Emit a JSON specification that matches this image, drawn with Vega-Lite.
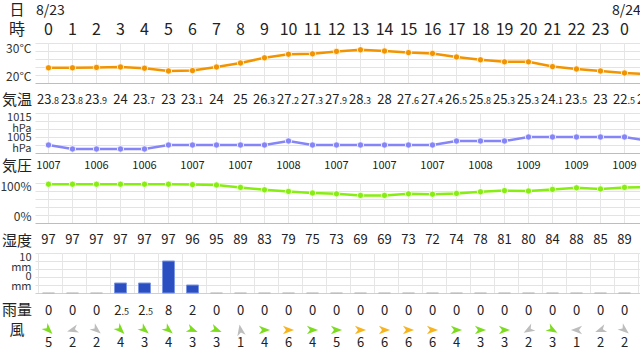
{
  "$schema": "https://vega.github.io/schema/vega-lite/v6.json",
  "width": 605,
  "height": 354,
  "autosize": "none",
  "padding": {"left": 35, "right": 0, "top": 0, "bottom": 0},
  "background": "white",
  "config": {
    "view": {"stroke": null},
    "axis": {"domain": false, "ticks": false, "labelFont": "Noto Sans CJK JP", "labelFontSize": 12, "labelColor": "#333", "gridColor": "#e3e3e3", "labelPadding": 4, "labelLineHeight": 11},
    "text": {"font": "Noto Sans CJK JP", "color": "#222"}
  },
  "data": {"values": [
    {"i":0,"h":"0","date":"8/23","temp":23.8,"ti":"23","td":".8","pres":1007,"hum":97,"rain":0,"ri":"0","rd":"","wspd":5,"wdeg":45},
    {"i":1,"h":"1","date":"","temp":23.8,"ti":"23","td":".8","pres":1006,"hum":97,"rain":0,"ri":"0","rd":"","wspd":2,"wdeg":165},
    {"i":2,"h":"2","date":"","temp":23.9,"ti":"23","td":".9","pres":1006,"hum":97,"rain":0,"ri":"0","rd":"","wspd":2,"wdeg":40},
    {"i":3,"h":"3","date":"","temp":24,"ti":"24","td":"","pres":1006,"hum":97,"rain":2.5,"ri":"2","rd":".5","wspd":4,"wdeg":45},
    {"i":4,"h":"4","date":"","temp":23.7,"ti":"23","td":".7","pres":1006,"hum":97,"rain":2.5,"ri":"2","rd":".5","wspd":3,"wdeg":40},
    {"i":5,"h":"5","date":"","temp":23,"ti":"23","td":"","pres":1007,"hum":97,"rain":8,"ri":"8","rd":"","wspd":4,"wdeg":40},
    {"i":6,"h":"6","date":"","temp":23.1,"ti":"23","td":".1","pres":1007,"hum":96,"rain":2,"ri":"2","rd":"","wspd":3,"wdeg":22},
    {"i":7,"h":"7","date":"","temp":24,"ti":"24","td":"","pres":1007,"hum":95,"rain":0,"ri":"0","rd":"","wspd":3,"wdeg":22},
    {"i":8,"h":"8","date":"","temp":25,"ti":"25","td":"","pres":1007,"hum":89,"rain":0,"ri":"0","rd":"","wspd":1,"wdeg":-100},
    {"i":9,"h":"9","date":"","temp":26.3,"ti":"26","td":".3","pres":1007,"hum":83,"rain":0,"ri":"0","rd":"","wspd":4,"wdeg":0},
    {"i":10,"h":"10","date":"","temp":27.2,"ti":"27","td":".2","pres":1008,"hum":79,"rain":0,"ri":"0","rd":"","wspd":6,"wdeg":0},
    {"i":11,"h":"11","date":"","temp":27.3,"ti":"27","td":".3","pres":1007,"hum":75,"rain":0,"ri":"0","rd":"","wspd":4,"wdeg":0},
    {"i":12,"h":"12","date":"","temp":27.9,"ti":"27","td":".9","pres":1007,"hum":73,"rain":0,"ri":"0","rd":"","wspd":5,"wdeg":0},
    {"i":13,"h":"13","date":"","temp":28.3,"ti":"28","td":".3","pres":1007,"hum":69,"rain":0,"ri":"0","rd":"","wspd":6,"wdeg":0},
    {"i":14,"h":"14","date":"","temp":28,"ti":"28","td":"","pres":1007,"hum":69,"rain":0,"ri":"0","rd":"","wspd":6,"wdeg":0},
    {"i":15,"h":"15","date":"","temp":27.6,"ti":"27","td":".6","pres":1007,"hum":73,"rain":0,"ri":"0","rd":"","wspd":6,"wdeg":0},
    {"i":16,"h":"16","date":"","temp":27.4,"ti":"27","td":".4","pres":1007,"hum":72,"rain":0,"ri":"0","rd":"","wspd":6,"wdeg":0},
    {"i":17,"h":"17","date":"","temp":26.5,"ti":"26","td":".5","pres":1008,"hum":74,"rain":0,"ri":"0","rd":"","wspd":4,"wdeg":0},
    {"i":18,"h":"18","date":"","temp":25.8,"ti":"25","td":".8","pres":1008,"hum":78,"rain":0,"ri":"0","rd":"","wspd":3,"wdeg":0},
    {"i":19,"h":"19","date":"","temp":25.3,"ti":"25","td":".3","pres":1008,"hum":81,"rain":0,"ri":"0","rd":"","wspd":3,"wdeg":0},
    {"i":20,"h":"20","date":"","temp":25.3,"ti":"25","td":".3","pres":1009,"hum":80,"rain":0,"ri":"0","rd":"","wspd":2,"wdeg":150},
    {"i":21,"h":"21","date":"","temp":24.1,"ti":"24","td":".1","pres":1009,"hum":84,"rain":0,"ri":"0","rd":"","wspd":3,"wdeg":30},
    {"i":22,"h":"22","date":"","temp":23.5,"ti":"23","td":".5","pres":1009,"hum":88,"rain":0,"ri":"0","rd":"","wspd":1,"wdeg":180},
    {"i":23,"h":"23","date":"","temp":23,"ti":"23","td":"","pres":1009,"hum":85,"rain":0,"ri":"0","rd":"","wspd":2,"wdeg":160},
    {"i":24,"h":"0","date":"8/24","temp":22.5,"ti":"22","td":".5","pres":1009,"hum":89,"rain":0,"ri":"0","rd":"","wspd":2,"wdeg":40},
    {"i":25,"h":"1","date":"","temp":22.2,"ti":"22","td":".2","pres":1008,"hum":90,"rain":0,"ri":"0","rd":"","wspd":2,"wdeg":40}
  ]},
  "layer": [
    {"mark": {"type": "rule", "color": "#e6e6e6", "strokeWidth": 1},
     "encoding": {"x": {"field": "i", "type": "quantitative", "scale": {"domain": [-0.5625, 24.6458], "nice": false, "zero": false, "padding": 0}, "axis": null},
       "y": {"datum": 30, "type": "quantitative", "scale": {"domain": [20, 30], "range": [83, 43], "nice": false, "zero": false}, "axis": null}, "y2": {"datum": 20}}},
    {"mark": {"type": "line", "color": "#f29400", "strokeWidth": 2.5, "point": {"filled": true, "size": 40, "color": "#f29400", "stroke": "white", "strokeWidth": 0.8}},
     "encoding": {"x": {"field": "i", "type": "quantitative", "scale": {"domain": [-0.5625, 24.6458], "nice": false, "zero": false, "padding": 0}, "axis": null},
       "y": {"field": "temp", "type": "quantitative",
       "scale": {"domain": [20, 30], "range": [83, 43], "nice": false, "zero": false},
       "axis": {"orient": "left", "title": null, "grid": true, "values": [20, 22, 24, 26, 28, 30], "labelFlush": true,
         "labelExpr": "datum.value == 30 ? '30°C' : (datum.value == 20 ? '20°C' : '')",
         "gridColor": {"condition": {"test": "datum.value == 20", "value": "#bdbdbd"}, "value": "#e3e3e3"}}}}},
    {"mark": {"type": "text", "fontSize": 14, "baseline": "middle", "dy": -32, "dx": 2},
     "transform": [{"filter": "datum.date != ''"}],
     "encoding": {"x": {"field": "i", "type": "quantitative", "scale": {"domain": [-0.5625, 24.6458], "nice": false, "zero": false, "padding": 0}, "axis": null},
       "y": {"datum": 30, "type": "quantitative", "scale": {"domain": [20, 30], "range": [83, 43], "nice": false, "zero": false}, "axis": null}, "text": {"field": "date"}}},
    {"mark": {"type": "text", "fontSize": 16, "baseline": "middle", "dy": -13},
     "transform": [{"filter": "datum.i <= 24"}],
     "encoding": {"x": {"field": "i", "type": "quantitative", "scale": {"domain": [-0.5625, 24.6458], "nice": false, "zero": false, "padding": 0}, "axis": null},
       "y": {"datum": 30, "type": "quantitative", "scale": {"domain": [20, 30], "range": [83, 43], "nice": false, "zero": false}, "axis": null}, "text": {"field": "h"}}},
    {"data": {"values": [{"t": "日"}]},
     "mark": {"type": "text", "fontSize": 15, "baseline": "middle", "dy": -33},
     "encoding": {"x": {"datum": -1.3125, "type": "quantitative", "scale": {"domain": [-0.5625, 24.6458], "nice": false, "zero": false, "padding": 0}, "axis": null},
       "y": {"datum": 30, "type": "quantitative", "scale": {"domain": [20, 30], "range": [83, 43], "nice": false, "zero": false}, "axis": null}, "text": {"field": "t"}}},
    {"data": {"values": [{"t": "時"}]},
     "mark": {"type": "text", "fontSize": 16, "baseline": "middle", "dy": -13},
     "encoding": {"x": {"datum": -1.3125, "type": "quantitative", "scale": {"domain": [-0.5625, 24.6458], "nice": false, "zero": false, "padding": 0}, "axis": null},
       "y": {"datum": 30, "type": "quantitative", "scale": {"domain": [20, 30], "range": [83, 43], "nice": false, "zero": false}, "axis": null}, "text": {"field": "t"}}},
    {"data": {"values": [{"t": "気温"}]},
     "mark": {"type": "text", "fontSize": 15, "baseline": "middle", "dy": 17},
     "encoding": {"x": {"datum": -1.3125, "type": "quantitative", "scale": {"domain": [-0.5625, 24.6458], "nice": false, "zero": false, "padding": 0}, "axis": null},
       "y": {"datum": 20, "type": "quantitative", "scale": {"domain": [20, 30], "range": [83, 43], "nice": false, "zero": false}, "axis": null}, "text": {"field": "t"}}},
    {"transform": [{"filter": "datum.td == ''"}],
     "mark": {"type": "text", "fontSize": 13, "baseline": "alphabetic", "dy": 20.5},
     "encoding": {"x": {"field": "i", "type": "quantitative", "scale": {"domain": [-0.5625, 24.6458], "nice": false, "zero": false, "padding": 0}, "axis": null},
       "y": {"datum": 20, "type": "quantitative", "scale": {"domain": [20, 30], "range": [83, 43], "nice": false, "zero": false}, "axis": null}, "text": {"field": "ti"}}},
    {"transform": [{"filter": "datum.td != ''"}],
     "mark": {"type": "text", "fontSize": 13, "baseline": "alphabetic", "align": "right", "dx": 3, "dy": 20.5},
     "encoding": {"x": {"field": "i", "type": "quantitative", "scale": {"domain": [-0.5625, 24.6458], "nice": false, "zero": false, "padding": 0}, "axis": null},
       "y": {"datum": 20, "type": "quantitative", "scale": {"domain": [20, 30], "range": [83, 43], "nice": false, "zero": false}, "axis": null}, "text": {"field": "ti"}}},
    {"transform": [{"filter": "datum.td != ''"}],
     "mark": {"type": "text", "fontSize": 9, "baseline": "alphabetic", "align": "left", "dx": 3, "dy": 20.5},
     "encoding": {"x": {"field": "i", "type": "quantitative", "scale": {"domain": [-0.5625, 24.6458], "nice": false, "zero": false, "padding": 0}, "axis": null},
       "y": {"datum": 20, "type": "quantitative", "scale": {"domain": [20, 30], "range": [83, 43], "nice": false, "zero": false}, "axis": null}, "text": {"field": "td"}}},

    {"mark": {"type": "rule", "color": "#e6e6e6", "strokeWidth": 1},
     "encoding": {"x": {"field": "i", "type": "quantitative", "scale": {"domain": [-0.5625, 24.6458], "nice": false, "zero": false, "padding": 0}, "axis": null},
       "y": {"datum": 1015, "type": "quantitative", "scale": {"domain": [1005, 1015], "range": [153, 113], "nice": false, "zero": false}, "axis": null}, "y2": {"datum": 1005}}},
    {"mark": {"type": "line", "color": "#8585f7", "strokeWidth": 2.5, "point": {"filled": true, "size": 40, "color": "#8585f7", "stroke": "white", "strokeWidth": 0.8}},
     "encoding": {"x": {"field": "i", "type": "quantitative", "scale": {"domain": [-0.5625, 24.6458], "nice": false, "zero": false, "padding": 0}, "axis": null},
       "y": {"field": "pres", "type": "quantitative",
       "scale": {"domain": [1005, 1015], "range": [153, 113], "nice": false, "zero": false},
       "axis": {"orient": "left", "title": null, "grid": true, "values": [1005, 1007, 1009, 1011, 1013, 1015], "labelFlush": true,
         "labelFontSize": 11, "labelLineHeight": 11,
         "labelExpr": "datum.value == 1015 ? ['1015', 'hPa'] : (datum.value == 1005 ? ['1005', 'hPa'] : '')",
         "labelOffset": {"condition": {"test": "datum.value == 1005", "value": -11}, "value": -1.5},
         "gridColor": {"condition": {"test": "datum.value == 1005", "value": "#bdbdbd"}, "value": "#e3e3e3"}}}}},
    {"transform": [{"filter": "datum.i % 2 == 0"}],
     "mark": {"type": "text", "fontSize": 11, "baseline": "middle", "dy": 13},
     "encoding": {"x": {"field": "i", "type": "quantitative", "scale": {"domain": [-0.5625, 24.6458], "nice": false, "zero": false, "padding": 0}, "axis": null},
       "y": {"datum": 1005, "type": "quantitative", "scale": {"domain": [1005, 1015], "range": [153, 113], "nice": false, "zero": false}, "axis": null}, "text": {"field": "pres"}}},
    {"data": {"values": [{"t": "気圧"}]},
     "mark": {"type": "text", "fontSize": 15, "baseline": "middle", "dy": 13},
     "encoding": {"x": {"datum": -1.3125, "type": "quantitative", "scale": {"domain": [-0.5625, 24.6458], "nice": false, "zero": false, "padding": 0}, "axis": null},
       "y": {"datum": 1005, "type": "quantitative", "scale": {"domain": [1005, 1015], "range": [153, 113], "nice": false, "zero": false}, "axis": null}, "text": {"field": "t"}}},

    {"mark": {"type": "rule", "color": "#e6e6e6", "strokeWidth": 1},
     "encoding": {"x": {"field": "i", "type": "quantitative", "scale": {"domain": [-0.5625, 24.6458], "nice": false, "zero": false, "padding": 0}, "axis": null},
       "y": {"datum": 100, "type": "quantitative", "scale": {"domain": [0, 100], "range": [223, 183], "nice": false, "zero": false}, "axis": null}, "y2": {"datum": 0}}},
    {"mark": {"type": "line", "color": "#88ee11", "strokeWidth": 2.5, "point": {"filled": true, "size": 40, "color": "#88ee11", "stroke": "white", "strokeWidth": 0.8}},
     "encoding": {"x": {"field": "i", "type": "quantitative", "scale": {"domain": [-0.5625, 24.6458], "nice": false, "zero": false, "padding": 0}, "axis": null},
       "y": {"field": "hum", "type": "quantitative",
       "scale": {"domain": [0, 100], "range": [223, 183], "nice": false, "zero": false},
       "axis": {"orient": "left", "title": null, "grid": true, "values": [0, 20, 40, 60, 80, 100], "labelFlush": true,
         "labelExpr": "datum.value == 100 ? '100%' : (datum.value == 0 ? '0%' : '')",
         "labelOffset": {"condition": {"test": "datum.value == 100", "value": -2}, "value": 0},
         "gridColor": {"condition": {"test": "datum.value == 0", "value": "#bdbdbd"}, "value": "#e3e3e3"}}}}},
    {"mark": {"type": "text", "fontSize": 13, "baseline": "middle", "dy": 17},
     "encoding": {"x": {"field": "i", "type": "quantitative", "scale": {"domain": [-0.5625, 24.6458], "nice": false, "zero": false, "padding": 0}, "axis": null},
       "y": {"datum": 0, "type": "quantitative", "scale": {"domain": [0, 100], "range": [223, 183], "nice": false, "zero": false}, "axis": null}, "text": {"field": "hum"}}},
    {"data": {"values": [{"t": "湿度"}]},
     "mark": {"type": "text", "fontSize": 15, "baseline": "middle", "dy": 18},
     "encoding": {"x": {"datum": -1.3125, "type": "quantitative", "scale": {"domain": [-0.5625, 24.6458], "nice": false, "zero": false, "padding": 0}, "axis": null},
       "y": {"datum": 0, "type": "quantitative", "scale": {"domain": [0, 100], "range": [223, 183], "nice": false, "zero": false}, "axis": null}, "text": {"field": "t"}}},

    {"mark": {"type": "rule", "color": "#e6e6e6", "strokeWidth": 1, "xOffset": -10},
     "encoding": {"x": {"field": "i", "type": "quantitative", "scale": {"domain": [-0.5625, 24.6458], "nice": false, "zero": false, "padding": 0}, "axis": null},
       "y": {"datum": 10, "type": "quantitative", "scale": {"domain": [0, 10], "range": [293, 253], "nice": false, "zero": false}, "axis": null}, "y2": {"datum": 0}}},
    {"transform": [{"filter": "datum.rain > 0"}],
     "mark": {"type": "bar", "orient": "vertical", "width": 12, "color": "#2b4fc0", "stroke": "#7d97e3", "strokeWidth": 1},
     "encoding": {"x": {"field": "i", "type": "quantitative", "scale": {"domain": [-0.5625, 24.6458], "nice": false, "zero": false, "padding": 0}, "axis": null},
       "y": {"field": "rain", "type": "quantitative",
       "scale": {"domain": [0, 10], "range": [293, 253], "nice": false, "zero": false},
       "axis": {"orient": "left", "title": null, "grid": true, "values": [0, 2, 4, 6, 8, 10], "labelFlush": true,
         "labelFontSize": 11, "labelLineHeight": 10,
         "labelExpr": "datum.value == 10 ? ['10', 'mm'] : (datum.value == 0 ? ['0', 'mm'] : '')",
         "labelOffset": {"condition": {"test": "datum.value == 0", "value": -12}, "value": -2},
         "gridColor": {"condition": {"test": "datum.value == 0", "value": "#cfcfcf"}, "value": "#e3e3e3"}}}}},
    {"transform": [{"filter": "datum.rain == 0"}],
     "mark": {"type": "tick", "orient": "horizontal", "size": 12, "thickness": 1.5, "color": "#b0b0b0"},
     "encoding": {"x": {"field": "i", "type": "quantitative", "scale": {"domain": [-0.5625, 24.6458], "nice": false, "zero": false, "padding": 0}, "axis": null},
       "y": {"field": "rain", "type": "quantitative", "scale": {"domain": [0, 10], "range": [293, 253], "nice": false, "zero": false}, "axis": null}}},
    {"transform": [{"filter": "datum.rd == ''"}],
     "mark": {"type": "text", "fontSize": 13, "baseline": "alphabetic", "dy": 22},
     "encoding": {"x": {"field": "i", "type": "quantitative", "scale": {"domain": [-0.5625, 24.6458], "nice": false, "zero": false, "padding": 0}, "axis": null},
       "y": {"datum": 0, "type": "quantitative", "scale": {"domain": [0, 10], "range": [293, 253], "nice": false, "zero": false}, "axis": null}, "text": {"field": "ri"}}},
    {"transform": [{"filter": "datum.rd != ''"}],
     "mark": {"type": "text", "fontSize": 13, "baseline": "alphabetic", "align": "right", "dx": 1, "dy": 22},
     "encoding": {"x": {"field": "i", "type": "quantitative", "scale": {"domain": [-0.5625, 24.6458], "nice": false, "zero": false, "padding": 0}, "axis": null},
       "y": {"datum": 0, "type": "quantitative", "scale": {"domain": [0, 10], "range": [293, 253], "nice": false, "zero": false}, "axis": null}, "text": {"field": "ri"}}},
    {"transform": [{"filter": "datum.rd != ''"}],
     "mark": {"type": "text", "fontSize": 9, "baseline": "alphabetic", "align": "left", "dx": 1, "dy": 22},
     "encoding": {"x": {"field": "i", "type": "quantitative", "scale": {"domain": [-0.5625, 24.6458], "nice": false, "zero": false, "padding": 0}, "axis": null},
       "y": {"datum": 0, "type": "quantitative", "scale": {"domain": [0, 10], "range": [293, 253], "nice": false, "zero": false}, "axis": null}, "text": {"field": "rd"}}},
    {"data": {"values": [{"t": "雨量"}]},
     "mark": {"type": "text", "fontSize": 15, "baseline": "middle", "dy": 17},
     "encoding": {"x": {"datum": -1.3125, "type": "quantitative", "scale": {"domain": [-0.5625, 24.6458], "nice": false, "zero": false, "padding": 0}, "axis": null},
       "y": {"datum": 0, "type": "quantitative", "scale": {"domain": [0, 10], "range": [293, 253], "nice": false, "zero": false}, "axis": null}, "text": {"field": "t"}}},
    {"data": {"values": [{"t": "風"}]},
     "mark": {"type": "text", "fontSize": 15, "baseline": "middle", "dy": 37},
     "encoding": {"x": {"datum": -1.3125, "type": "quantitative", "scale": {"domain": [-0.5625, 24.6458], "nice": false, "zero": false, "padding": 0}, "axis": null},
       "y": {"datum": 0, "type": "quantitative", "scale": {"domain": [0, 10], "range": [293, 253], "nice": false, "zero": false}, "axis": null}, "text": {"field": "t"}}},
    {"mark": {"type": "point", "filled": true, "opacity": 1, "size": 125, "yOffset": 37, "shape": "M 1 0 L -1 -0.75 L -0.45 0 L -1 0.75 Z"},
     "encoding": {"x": {"field": "i", "type": "quantitative", "scale": {"domain": [-0.5625, 24.6458], "nice": false, "zero": false, "padding": 0}, "axis": null},
       "y": {"datum": 0, "type": "quantitative", "scale": {"domain": [0, 10], "range": [293, 253], "nice": false, "zero": false}, "axis": null},
       "angle": {"field": "wdeg", "type": "quantitative", "scale": null},
       "color": {"condition": [{"test": "datum.wspd <= 2", "value": "#bdbdbd"}, {"test": "datum.wspd >= 6", "value": "#f6b51e"}], "value": "#7ddc1f"}}},
    {"mark": {"type": "text", "fontSize": 13, "baseline": "middle", "dy": 50},
     "encoding": {"x": {"field": "i", "type": "quantitative", "scale": {"domain": [-0.5625, 24.6458], "nice": false, "zero": false, "padding": 0}, "axis": null},
       "y": {"datum": 0, "type": "quantitative", "scale": {"domain": [0, 10], "range": [293, 253], "nice": false, "zero": false}, "axis": null}, "text": {"field": "wspd"}}}
  ],
  "resolve": {"scale": {"x": "independent", "y": "independent"}, "axis": {"x": "independent", "y": "independent"}}
}
